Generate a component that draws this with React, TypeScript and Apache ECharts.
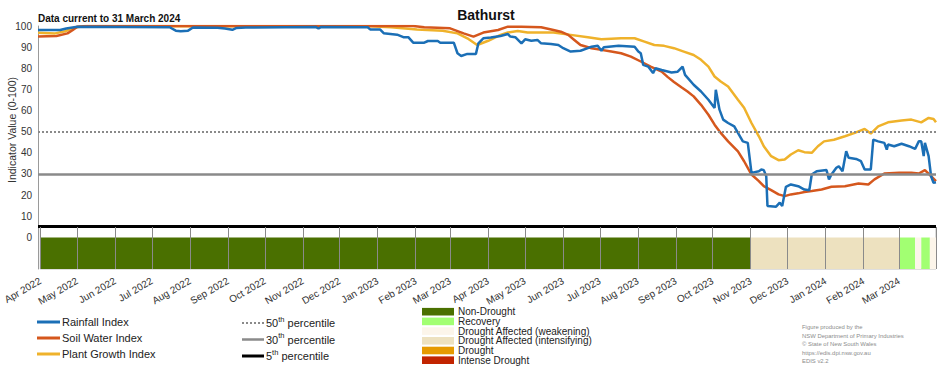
import React, { useEffect, useRef } from 'react';
import * as echarts from 'echarts';

type Pt = [string, number];

const rainfallIndex: Pt[] = [
  ['2022-04-01', 98.1], ['2022-04-19', 98.1], ['2022-04-24', 98.8], ['2022-05-03', 99.6], ['2022-06-10', 99.5],
  ['2022-07-17', 99.4], ['2022-07-22', 97.8], ['2022-07-26', 97.5], ['2022-08-01', 97.8], ['2022-08-05', 99.3],
  ['2022-08-25', 99.2], ['2022-08-31', 98.8], ['2022-09-06', 98.2], ['2022-09-09', 99.0], ['2022-09-17', 99.3],
  ['2022-11-13', 99.5], ['2022-11-15', 98.8], ['2022-11-17', 99.5], ['2022-12-25', 99.4], ['2022-12-27', 98.4],
  ['2023-01-04', 98.4], ['2023-01-07', 96.6], ['2023-01-18', 95.9], ['2023-01-23', 94.7], ['2023-01-27', 94.7],
  ['2023-01-31', 92.1], ['2023-02-09', 92.1], ['2023-02-12', 92.9], ['2023-02-20', 92.9], ['2023-02-22', 92.1],
  ['2023-03-05', 92.1], ['2023-03-08', 87.1], ['2023-03-11', 85.8], ['2023-03-16', 86.8], ['2023-03-23', 86.8],
  ['2023-03-25', 91.8], ['2023-03-29', 94.2], ['2023-04-04', 94.6], ['2023-04-12', 95.3], ['2023-04-18', 96.2],
  ['2023-04-20', 95.0], ['2023-04-24', 94.7], ['2023-04-29', 91.8], ['2023-05-02', 93.7], ['2023-05-07', 93.0],
  ['2023-05-12', 93.4], ['2023-05-15', 91.8], ['2023-05-23', 91.5], ['2023-05-29', 91.0], ['2023-06-02', 89.5],
  ['2023-06-08', 87.9], ['2023-06-16', 88.3], ['2023-06-22', 89.5], ['2023-06-25', 90.2], ['2023-06-30', 90.6],
  ['2023-07-03', 88.3], ['2023-07-05', 90.0], ['2023-07-17', 90.6], ['2023-07-30', 90.2], ['2023-08-02', 87.9],
  ['2023-08-04', 87.1], ['2023-08-06', 81.6], ['2023-08-10', 80.8], ['2023-08-14', 77.7], ['2023-08-16', 80.0],
  ['2023-08-21', 79.2], ['2023-08-29', 78.0], ['2023-09-03', 78.4], ['2023-09-07', 80.8], ['2023-09-09', 76.9],
  ['2023-09-16', 72.2], ['2023-09-22', 69.0], ['2023-09-28', 65.1], ['2023-10-03', 61.2], ['2023-10-04', 69.8],
  ['2023-10-07', 60.4], ['2023-10-10', 55.7], ['2023-10-14', 54.1], ['2023-10-19', 52.5], ['2023-10-22', 49.4],
  ['2023-10-26', 45.4], ['2023-10-30', 44.7], ['2023-11-02', 30.5], ['2023-11-08', 31.3], ['2023-11-10', 32.1],
  ['2023-11-12', 31.8], ['2023-11-14', 28.9], ['2023-11-15', 14.8], ['2023-11-22', 14.5], ['2023-11-25', 16.4],
  ['2023-11-27', 14.8], ['2023-11-30', 23.9], ['2023-12-04', 25.0], ['2023-12-10', 24.2], ['2023-12-15', 22.6],
  ['2023-12-19', 22.3], ['2023-12-21', 29.7], ['2023-12-25', 31.3], ['2024-01-02', 31.8], ['2024-01-04', 27.4],
  ['2024-01-06', 29.7], ['2024-01-10', 32.9], ['2024-01-12', 33.6], ['2024-01-15', 31.3], ['2024-01-18', 40.7],
  ['2024-01-20', 37.6], ['2024-01-26', 37.1], ['2024-01-30', 36.0], ['2024-02-02', 32.1], ['2024-02-07', 32.1],
  ['2024-02-09', 46.2], ['2024-02-13', 45.4], ['2024-02-18', 44.7], ['2024-02-20', 41.5], ['2024-02-21', 43.9],
  ['2024-02-26', 43.1], ['2024-03-03', 44.3], ['2024-03-09', 43.1], ['2024-03-14', 41.8], ['2024-03-17', 45.4],
  ['2024-03-19', 45.4], ['2024-03-21', 38.4], ['2024-03-22', 44.7], ['2024-03-25', 38.4], ['2024-03-27', 28.9],
  ['2024-03-29', 25.8], ['2024-03-31', 26.0],
];

const soilWaterIndex: Pt[] = [
  ['2022-04-01', 95.0], ['2022-04-16', 95.3], ['2022-04-25', 96.5], ['2022-04-29', 98.0], ['2022-05-03', 99.7],
  ['2022-05-11', 100], ['2023-01-31', 100], ['2023-02-09', 99.4], ['2023-03-02', 98.9], ['2023-03-13', 96.5],
  ['2023-03-21', 95.0], ['2023-03-29', 96.9], ['2023-04-10', 98.1], ['2023-04-18', 99.7], ['2023-04-29', 99.7],
  ['2023-05-15', 99.4], ['2023-05-25', 98.1], ['2023-05-31', 97.3], ['2023-06-06', 95.8], ['2023-06-11', 93.4],
  ['2023-06-16', 91.0], ['2023-06-25', 89.5], ['2023-07-03', 88.7], ['2023-07-11', 87.9], ['2023-07-19', 87.1],
  ['2023-07-27', 85.5], ['2023-08-04', 83.2], ['2023-08-12', 80.8], ['2023-08-21', 78.4], ['2023-08-26', 75.8],
  ['2023-08-31', 73.5], ['2023-09-06', 71.0], ['2023-09-11', 69.0], ['2023-09-16', 66.7], ['2023-09-22', 62.7],
  ['2023-09-28', 58.0], ['2023-10-03', 53.3], ['2023-10-08', 49.4], ['2023-10-14', 45.4], ['2023-10-22', 40.7],
  ['2023-10-27', 36.0], ['2023-11-02', 29.7], ['2023-11-08', 26.6], ['2023-11-12', 24.2], ['2023-11-18', 22.3],
  ['2023-11-24', 20.3], ['2023-11-29', 19.5], ['2023-12-04', 20.3], ['2023-12-10', 20.8], ['2023-12-15', 21.4],
  ['2023-12-21', 21.9], ['2023-12-29', 22.6], ['2024-01-06', 23.9], ['2024-01-17', 24.2], ['2024-01-28', 25.5],
  ['2024-02-05', 25.0], ['2024-02-10', 27.4], ['2024-02-18', 30.2], ['2024-03-01', 30.5], ['2024-03-11', 30.5],
  ['2024-03-17', 30.2], ['2024-03-22', 31.8], ['2024-03-27', 28.9], ['2024-03-31', 26.6],
];

const plantGrowthIndex: Pt[] = [
  ['2022-04-01', 96.8], ['2022-04-15', 96.5], ['2022-04-23', 97.5], ['2022-05-01', 99.3], ['2022-05-09', 100],
  ['2022-12-27', 99.9], ['2023-01-13', 99.4], ['2023-02-03', 98.4], ['2023-02-24', 97.8], ['2023-03-08', 96.5],
  ['2023-03-16', 94.2], ['2023-03-24', 91.0], ['2023-04-02', 93.0], ['2023-04-12', 95.8], ['2023-04-18', 96.9],
  ['2023-04-26', 97.6], ['2023-05-04', 96.9], ['2023-05-25', 96.9], ['2023-06-08', 95.8], ['2023-06-22', 94.7],
  ['2023-07-03', 93.7], ['2023-07-19', 94.2], ['2023-07-30', 94.2], ['2023-08-07', 92.6], ['2023-08-15', 91.0],
  ['2023-08-23', 90.6], ['2023-08-31', 89.5], ['2023-09-08', 87.9], ['2023-09-16', 86.3], ['2023-09-22', 84.0],
  ['2023-09-28', 80.8], ['2023-10-03', 76.1], ['2023-10-08', 73.7], ['2023-10-14', 71.4], ['2023-10-22', 65.1],
  ['2023-10-27', 61.3], ['2023-11-02', 54.1], ['2023-11-08', 47.8], ['2023-11-12', 43.1], ['2023-11-18', 38.4],
  ['2023-11-24', 36.5], ['2023-11-29', 36.8], ['2023-12-04', 39.2], ['2023-12-10', 41.2], ['2023-12-15', 40.3],
  ['2023-12-21', 40.0], ['2023-12-26', 43.1], ['2023-12-31', 45.4], ['2024-01-08', 46.2], ['2024-01-17', 47.8],
  ['2024-01-25', 49.4], ['2024-02-02', 51.3], ['2024-02-07', 49.1], ['2024-02-13', 52.5], ['2024-02-21', 54.4],
  ['2024-03-03', 55.3], ['2024-03-11', 55.7], ['2024-03-19', 54.4], ['2024-03-25', 56.5], ['2024-03-29', 56.0],
  ['2024-03-31', 54.4],
];

const indexNames = ['Rainfall Index', 'Soil Water Index', 'Plant Growth Index'];
const indexColors = ['#1b6fb6', '#d5571d', '#efb22b'];

const percentileValues = [50, 30, 5];
const percentileLabels = ['50', '30', '5'];

const droughtCategories = [
  'Non-Drought',
  'Recovery',
  'Drought Affected (weakening)',
  'Drought Affected (intensifying)',
  'Drought',
  'Intense Drought',
];
const droughtColors = ['#4a7000', '#a2ff72', '#fcf5ea', '#ede1bf', '#e69a00', '#c22400'];

// [start, end, category index]
const droughtPeriods: [string, string, number][] = [
  ['2022-04-01', '2023-11-01', 0],
  ['2023-11-01', '2024-03-01', 3],
  ['2024-03-01', '2024-03-14', 1],
  ['2024-03-14', '2024-03-19', 2],
  ['2024-03-19', '2024-03-26', 1],
  ['2024-03-26', '2024-03-31', 2],
];

const monthNames = ['Jan', 'Feb', 'Mar', 'Apr', 'May', 'Jun', 'Jul', 'Aug', 'Sep', 'Oct', 'Nov', 'Dec'];
const xMin = '2022-04-01';
const xMax = '2024-03-31';

const titleText = 'Bathurst';
const subtitleText = 'Data current to 31 March 2024';
const yAxisTitle = 'Indicator Value (0-100)';
const creditLines = [
  'Figure produced by the',
  'NSW Department of Primary Industries',
  '© State of New South Wales',
  'https://edis.dpi.nsw.gov.au',
  'EDIS v2.2',
];

const FONT = "'Liberation Sans', Arial, sans-serif";

export default function App() {
  const ref = useRef<HTMLDivElement>(null);

  useEffect(() => {
    const chart = echarts.init(ref.current as HTMLDivElement, null, { renderer: 'svg' });
    const DAY = 86400000;
    const tp = (s: string) => +(echarts as any).time.parse(s);
    const fmtMonth = (v: number) => {
      const d = new Date(v);
      return monthNames[d.getMonth()] + ' ' + d.getFullYear();
    };

    const text = (x: number, y: number, t: string, o: any = {}) => ({
      type: 'text',
      x,
      y,
      silent: true,
      rotation: o.rotation || 0,
      style: {
        text: t,
        fill: o.fill || '#222',
        fontSize: o.fontSize || 11,
        fontWeight: o.fontWeight || 'normal',
        fontFamily: FONT,
        textAlign: o.align || 'left',
        align: o.align || 'left',
        textVerticalAlign: 'middle',
        verticalAlign: 'middle',
        rich: o.rich,
      },
    });

    const graphic: any[] = [];
    graphic.push(text(486, 15, titleText, { fontSize: 14, fontWeight: 'bold', align: 'center', fill: '#111' }));
    graphic.push(text(38, 18, subtitleText, { fontSize: 10, fontWeight: 'bold', fill: '#111' }));
    graphic.push(text(12, 130, yAxisTitle, { fontSize: 10.5, align: 'center', rotation: Math.PI / 2, fill: '#333' }));

    // index legend
    indexNames.forEach((n, i) => {
      const y = 322 + i * 16;
      graphic.push({ type: 'line', silent: true, shape: { x1: 37, y1: y, x2: 60, y2: y }, style: { stroke: indexColors[i], lineWidth: 3 } });
      graphic.push(text(62, y, n, { fontSize: 11 }));
    });

    // percentile legend
    const pStyles = [
      { stroke: '#8a8a8a', lineWidth: 2, lineDash: [2, 2] },
      { stroke: '#8a8a8a', lineWidth: 2.5 },
      { stroke: '#000', lineWidth: 3 },
    ];
    percentileLabels.forEach((p, i) => {
      const y = 323 + i * 16.5;
      graphic.push({ type: 'line', silent: true, shape: { x1: 242, y1: y, x2: 264, y2: y }, style: pStyles[i] });
      graphic.push(
        text(266, y, '{n|' + p + '}{s|th}{n| percentile}', {
          rich: {
            n: { fontSize: 11, fontFamily: FONT, fill: '#222', lineHeight: 16 },
            s: { fontSize: 7.5, fontFamily: FONT, fill: '#222', verticalAlign: 'top' },
          },
        })
      );
    });

    // drought legend
    droughtCategories.forEach((c, i) => {
      const y = 311.7 + i * 9.7;
      graphic.push({ type: 'rect', silent: true, shape: { x: 422, y: y - 3.8, width: 32, height: 7.6 }, style: { fill: droughtColors[i] } });
      graphic.push(text(458, y, c, { fontSize: 10 }));
    });

    creditLines.forEach((c, i) => {
      graphic.push(text(802, 327 + i * 8.5, c, { fontSize: 5.9, fill: '#8c8c8c' }));
    });

    const indexData = [rainfallIndex, soilWaterIndex, plantGrowthIndex];
    const lineSeries = [2, 1, 0].map((i) => ({
      name: indexNames[i],
      type: 'line',
      xAxisIndex: 0,
      yAxisIndex: 0,
      data: indexData[i],
      symbol: 'none',
      showSymbol: false,
      lineStyle: { width: 2.5, color: indexColors[i] },
      itemStyle: { color: indexColors[i] },
      z: 3,
      silent: true,
    }));

    const option: any = {
      animation: false,
      textStyle: { fontFamily: FONT },
      grid: [
        { left: 38, right: 16, top: 26, bottom: 101 },
        { left: 38, right: 16, top: 227, bottom: 101, show: true, borderColor: '#bdbdbd', borderWidth: 1, backgroundColor: 'transparent' },
      ],
      xAxis: [
        { type: 'time', gridIndex: 0, min: xMin, max: xMax, show: false },
        {
          type: 'time',
          gridIndex: 1,
          min: xMin,
          max: xMax,
          splitNumber: 24,
          minInterval: 28 * DAY,
          maxInterval: 31 * DAY,
          z: 10,
          axisLine: { show: false },
          axisTick: { show: false },
          splitLine: { show: true, lineStyle: { color: '#8a8a8a', width: 1 } },
          axisLabel: {
            rotate: 30,
            fontSize: 10,
            color: '#333',
            margin: 11,
            formatter: fmtMonth,
            showMaxLabel: false,
            hideOverlap: false,
            fontFamily: FONT,
          },
        },
      ],
      yAxis: [
        {
          type: 'value',
          gridIndex: 0,
          min: -15,
          max: 100,
          interval: 5,
          axisLine: { show: true, lineStyle: { color: '#9a9a9a', width: 1 } },
          axisTick: { show: false },
          splitLine: { show: false },
          axisLabel: {
            fontSize: 10,
            color: '#333',
            margin: 6,
            fontFamily: FONT,
            formatter: (v: number) => (v >= 0 && v % 10 === 0 ? String(v) : ''),
          },
        },
        { type: 'value', gridIndex: 1, min: -15, max: 5, show: false },
      ],
      series: [
        {
          name: 'drought',
          type: 'line',
          xAxisIndex: 1,
          yAxisIndex: 1,
          data: [[xMin, -15]],
          symbol: 'none',
          lineStyle: { opacity: 0 },
          silent: true,
          z: 1,
          markArea: {
            silent: true,
            data: droughtPeriods.map(([s, e, c]) => [
              { xAxis: tp(s), yAxis: 0, itemStyle: { color: droughtColors[c], opacity: 1 } },
              { xAxis: tp(e), yAxis: -15 },
            ]),
          },
        },
        {
          name: 'percentiles',
          type: 'line',
          xAxisIndex: 0,
          yAxisIndex: 0,
          data: [[xMin, 100]],
          symbol: 'none',
          lineStyle: { opacity: 0 },
          silent: true,
          z: 2,
          markLine: {
            silent: true,
            symbol: 'none',
            label: { show: false },
            data: percentileValues.map((v, i) => ({
              yAxis: v,
              lineStyle: {
                color: pStyles[i].stroke,
                width: pStyles[i].lineWidth,
                type: i === 0 ? [2, 2] : 'solid',
              },
            })),
          },
        },
        ...lineSeries,
      ],
      graphic,
    };

    chart.setOption(option);
    return () => chart.dispose();
  }, []);

  return <div ref={ref} style={{ position: 'fixed', left: 0, top: 0, width: 952, height: 370, background: '#fff' }} />;
}
